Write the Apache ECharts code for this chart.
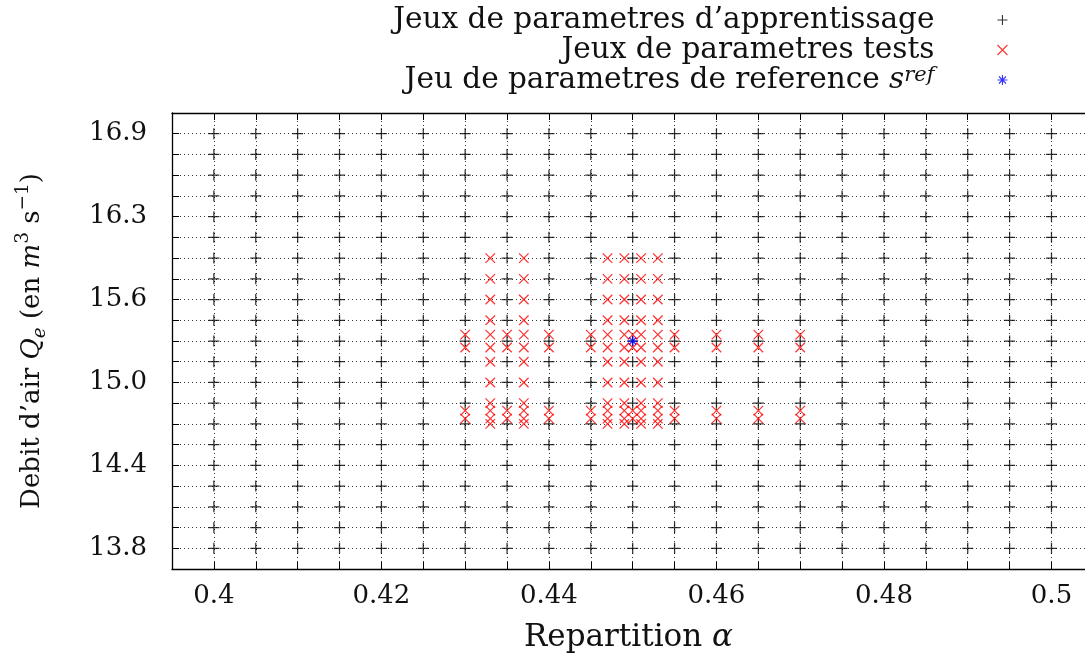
<!DOCTYPE html>
<html>
<head>
<meta charset="utf-8">
<script src="https://cdn.jsdelivr.net/npm/echarts@6/dist/echarts.min.js"></script>
<style>
  html, body { margin: 0; padding: 0; background: #fff; }
  #chart { width: 1085px; height: 660px; }
</style>
</head>
<body>
<div id="chart"></div>
<script>
// Training grid: repartition alpha levels and air flow Qe levels
const alphaGrid = [0.400, 0.405, 0.410, 0.415, 0.420, 0.425, 0.430, 0.435, 0.440, 0.445,
                   0.450, 0.455, 0.460, 0.465, 0.470, 0.475, 0.480, 0.485, 0.490, 0.495, 0.500];
const qGrid = [13.7861, 13.9410, 14.0959, 14.2508, 14.4057, 14.5606, 14.7155, 14.8704, 15.0253,
               15.1802, 15.3351, 15.4900, 15.6449, 15.7998, 15.9547, 16.1096, 16.2645, 16.4194,
               16.5743, 16.7292, 16.8841];

// Test sets: columns with the full Qe sweep, and columns with only the four perturbed levels
const testFullAlpha = [0.433, 0.437, 0.447, 0.449, 0.451, 0.453];
const testFullQ = [15.9547, 15.7998, 15.6449, 15.4900, 15.383, 15.287,
                   15.1802, 15.0253, 14.8704, 14.815, 14.755, 14.7155];
const testPairAlpha = [0.430, 0.435, 0.440, 0.445, 0.450, 0.455, 0.460, 0.465, 0.470];
const testPairQ = [15.383, 15.287, 14.815, 14.755];

// Reference parameter set
const refAlpha = [0.450];
const refQ = [15.3351];

// Axis ticks
const qStep = 0.1549;
const alphaStep = 0.005;
const alphaLabels = [0.40, 0.42, 0.44, 0.46, 0.48, 0.50];

const FONT = 'DejaVu Serif';
const INK = '#111';
const NAME_TRAIN = 'Jeux de parametres d\u2019apprentissage';
const NAME_TEST = 'Jeux de parametres tests';
const NAME_REF = 'Jeu de parametres de reference sref';

const trainData = [];
alphaGrid.forEach(a => qGrid.forEach(q => trainData.push([a, q])));
const testData = [];
testFullAlpha.forEach(a => testFullQ.forEach(q => testData.push([a, q])));
testPairAlpha.forEach(a => testPairQ.forEach(q => testData.push([a, q])));
const refData = refAlpha.map((a, i) => [a, refQ[i]]);

const PLUS = 'path://M0,5L10,5M5,0L5,10';
const CROSS = 'path://M0,0L10,10M10,0L0,10';
const STAR = 'path://M0,5L10,5M5,0L5,10M1.5,1.5L8.5,8.5M8.5,1.5L1.5,8.5';

const legendText = {};
legendText[NAME_TRAIN] = '{t|' + NAME_TRAIN + '}';
legendText[NAME_TEST] = '{t|' + NAME_TEST + '}';
legendText[NAME_REF] = '{t|Jeu de parametres de reference }{i|s}{sup|ref}';

const chart = echarts.init(document.getElementById('chart'), null, { renderer: 'canvas' });

const gridLine = { show: true, showMinLine: false, showMaxLine: false,
                   lineStyle: { color: '#333', width: 1, type: [1, 3] } };
const axisLine = { show: true, onZero: false, lineStyle: { color: '#000', width: 1.3 } };
const axisTick = { show: true, inside: true, length: 7, lineStyle: { color: '#000', width: 1 } };

chart.setOption({
  animation: false,
  backgroundColor: '#fff',
  grid: { left: 172, top: 113, width: 913, height: 456, containLabel: false, outerBoundsMode: 'none' },
  legend: {
    orient: 'vertical',
    right: 77,
    top: 5,
    padding: 0,
    itemGap: 0,
    align: 'right',
    itemWidth: 10,
    itemHeight: 10,
    selectedMode: false,
    formatter: name => legendText[name],
    textStyle: {
      fontFamily: FONT, fontSize: 29.5, color: INK, padding: [0, 58, 0, 0],
      rich: {
        t: { fontFamily: FONT, fontSize: 29.5, color: INK, lineHeight: 29 },
        i: { fontFamily: FONT, fontSize: 29.5, fontStyle: 'italic', color: INK, lineHeight: 29 },
        sup: { fontFamily: FONT, fontSize: 21, fontStyle: 'italic', color: INK, verticalAlign: 'top', lineHeight: 20 }
      }
    },
    data: [
      { name: NAME_TRAIN, icon: PLUS, itemStyle: { color: 'rgba(0,0,0,0)', borderColor: '#000', borderWidth: 1.1 } },
      { name: NAME_TEST, icon: CROSS, itemStyle: { color: 'rgba(0,0,0,0)', borderColor: '#ff0000', borderWidth: 1.1 } },
      { name: NAME_REF, icon: STAR, itemStyle: { color: 'rgba(0,0,0,0)', borderColor: '#0000ff', borderWidth: 1.1 } }
    ]
  },
  xAxis: [{
    type: 'value',
    min: 0.395, max: 0.504, interval: alphaStep,
    axisLine: axisLine, axisTick: axisTick, splitLine: gridLine,
    axisLabel: {
      margin: 14, fontFamily: FONT, fontSize: 26, color: INK,
      showMinLabel: true, showMaxLabel: true, hideOverlap: false,
      formatter: v => {
        const hit = alphaLabels.find(l => Math.abs(l - v) < 1e-6);
        return hit === undefined ? '' : String(Number(hit.toFixed(2)));
      }
    },
    name: '{t|Repartition }{i|\u03b1}',
    nameLocation: 'middle',
    nameGap: 53,
    nameTextStyle: {
      rich: {
        t: { fontFamily: FONT, fontSize: 31, color: INK },
        i: { fontFamily: FONT, fontSize: 31, fontStyle: 'italic', color: INK }
      }
    }
  }, {
    type: 'value',
    position: 'top',
    min: 0.395, max: 0.504, interval: alphaStep,
    axisLine: axisLine, axisTick: axisTick,
    axisLabel: { show: false }, splitLine: { show: false }
  }],
  yAxis: [{
    type: 'value',
    min: 88 * qStep, max: 110 * qStep, interval: qStep,
    axisLine: axisLine, axisTick: axisTick, splitLine: gridLine,
    axisLabel: {
      margin: 25, fontFamily: FONT, fontSize: 26, color: INK,
      showMinLabel: true, showMaxLabel: true, hideOverlap: false,
      formatter: v => {
        const k = Math.round(v / qStep);
        return (k % 4 === 1 && k > 88 && k < 110) ? v.toFixed(1) : '';
      }
    },
    name: '{t|Debit d\u2019air }{i|Q}{sub|e}{t| (en }{i|m}{sup|3}{t| s}{sup|\u22121}{t|)}',
    nameLocation: 'middle',
    nameRotate: 90,
    nameGap: 122,
    nameTextStyle: {
      rich: {
        t: { fontFamily: FONT, fontSize: 26, color: INK, lineHeight: 36 },
        i: { fontFamily: FONT, fontSize: 26, fontStyle: 'italic', color: INK, lineHeight: 36 },
        sup: { fontFamily: FONT, fontSize: 18.5, color: INK, verticalAlign: 'top', lineHeight: 20 },
        sub: { fontFamily: FONT, fontSize: 18.5, fontStyle: 'italic', color: INK, verticalAlign: 'bottom', lineHeight: 23 }
      }
    }
  }],
  series: [{
    name: NAME_TRAIN,
    type: 'scatter',
    data: trainData,
    symbol: PLUS,
    symbolSize: 11,
    itemStyle: { color: 'rgba(0,0,0,0)', borderColor: '#000', borderWidth: 1.25 },
    emphasis: { disabled: true },
    z: 2
  }, {
    name: NAME_TEST,
    type: 'scatter',
    data: testData,
    symbol: CROSS,
    symbolSize: 9.5,
    itemStyle: { color: 'rgba(0,0,0,0)', borderColor: '#ff0000', borderWidth: 1.25 },
    emphasis: { disabled: true },
    z: 3
  }, {
    name: NAME_REF,
    type: 'scatter',
    data: refData,
    symbol: STAR,
    symbolSize: 10,
    itemStyle: { color: 'rgba(0,0,0,0)', borderColor: '#0000ff', borderWidth: 1.25 },
    emphasis: { disabled: true },
    z: 4
  }]
});
</script>
</body>
</html>
